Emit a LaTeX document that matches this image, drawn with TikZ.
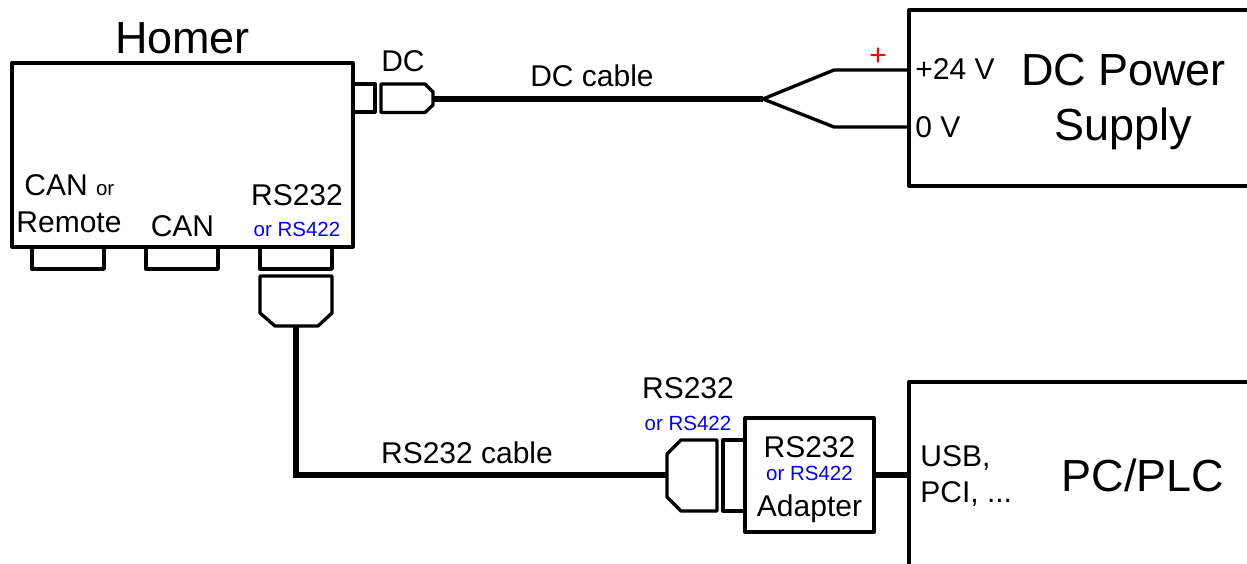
\documentclass[tikz,border=0pt]{standalone}
\usepackage{fontspec}
\setmainfont{Liberation Sans}
\tikzset{
    wire/.style = {line width = 1.9pt, line join = round, line cap = round},
    cable/.style = {line width = 3.4pt},
    bigtext/.style = {font = \fontsize{25.6}{28}\selectfont},
    midtext/.style = {font = \fontsize{17.07}{20}\selectfont},
    smalltext/.style = {font = \fontsize{11.66}{14}\selectfont},
    bluetext/.style = {smalltext, text = blue}
}
\begin{document}
\begin{tikzpicture}[x = 0.02cm, y = -0.02cm]
    \useasboundingbox (0,0) rectangle (1247,564);

    \node[wire, draw, inner sep = 0, minimum width = 6.82cm, minimum height = 3.68cm] (homer) at (182.5,155) {};
    \node[wire, draw, inner sep = 0, minimum width = 2.58cm, minimum height = 2.28cm] (adapter) at (809.5,475) {};

    \draw[wire] (1247,10) -- (909,10) -- (909,186) -- (1247,186);
    \draw[wire] (1247,382) -- (909,382) -- (909,564);
    \coordinate (supplyplus) at (909,70);
    \coordinate (supplyzero) at (909,127);
    \coordinate (pcport) at (909,475);

    % ports under the box
    \foreach \x in {32,146,260}
        \draw[wire] (\x,247) -- (\x,269) -- +(72,0) -- +(72,-22);

    % plug below rs232 port
    \draw[wire] (260,276) -- (332,276) -- (332,313) -- (318,326) -- (275,326) -- (260,313) -- cycle;
    \coordinate (rsplug) at (296,326);
    \coordinate (rsbend) at (296,475);

    % dc port and plug
    \draw[wire] (354,84) -- (375,84) -- (375,112) -- (354,112);
    \draw[wire] (381,84) -- (425,84) -- (433,92) -- (433,105) -- (425,112.5) -- (381,112.5) -- cycle;
    \coordinate (dcplug) at (433,99);
    \coordinate (dcsplit) at (763,99);
    \coordinate (dcup) at (834,70);
    \coordinate (dcdown) at (834,127);

    \draw[cable] (dcplug) -- (dcsplit);
    \draw[wire] (dcsplit) -- (dcup) -- (supplyplus);
    \draw[wire] (dcsplit) -- (dcdown) -- (supplyzero);

    % plug and socket at the adapter
    \draw[wire] (717,440) -- (681,440) -- (667,454) -- (667,497) -- (681,511) -- (717,511) -- cycle;
    \draw[wire] (745,440) -- (723,440) -- (723,511) -- (745,511);
    \coordinate (adplug) at (667,475);

    \draw[cable] (rsplug) -- (rsbend) -- (adplug);
    \draw[cable] (adapter.east) -- (pcport);

    \node[bigtext] (homername) at (182.5,38) {Homer};
    \node[midtext, anchor = west, inner sep = 0] (canone) at (24,185) {CAN \fontsize{11.66}{14}\selectfont or};
    \node[midtext] (remote) at (69,222) {Remote};
    \node[midtext] (cantwo) at (182.5,226) {CAN};
    \node[midtext] (rsone) at (297,195) {RS232};
    \node[bluetext] (rsoneor) at (297,229) {or RS422};
    \node[midtext] (dcname) at (403,61) {DC};
    \node[midtext] (dccable) at (592,76) {DC cable};
    \node[midtext, text = red] (plus) at (878,57) {+};
    \node[midtext, anchor = west, inner sep = 0] (plusv) at (915,69) {+24 V};
    \node[midtext, anchor = west, inner sep = 0] (zerov) at (915,127) {0 V};
    \node[bigtext] (dcpower) at (1123.5,70) {DC Power};
    \node[bigtext] (supply) at (1123.5,129) {Supply};
    \node[midtext] (rscable) at (467,453) {RS232 cable};
    \node[midtext] (rstwo) at (688,388) {RS232};
    \node[bluetext] (rstwoor) at (688,423) {or RS422};
    \node[midtext] (rsthree) at (809.5,447) {RS232};
    \node[bluetext] (rsthreeor) at (809.5,473) {or RS422};
    \node[midtext] (adaptername) at (809.5,509) {Adapter};
    \node[midtext, anchor = west, inner sep = 0] (usb) at (920,458) {USB,};
    \node[midtext, anchor = west, inner sep = 0] (pci) at (920,494) {PCI, ...};
    \node[bigtext] (pcplc) at (1143,475) {PC/PLC};
\end{tikzpicture}
\end{document}
